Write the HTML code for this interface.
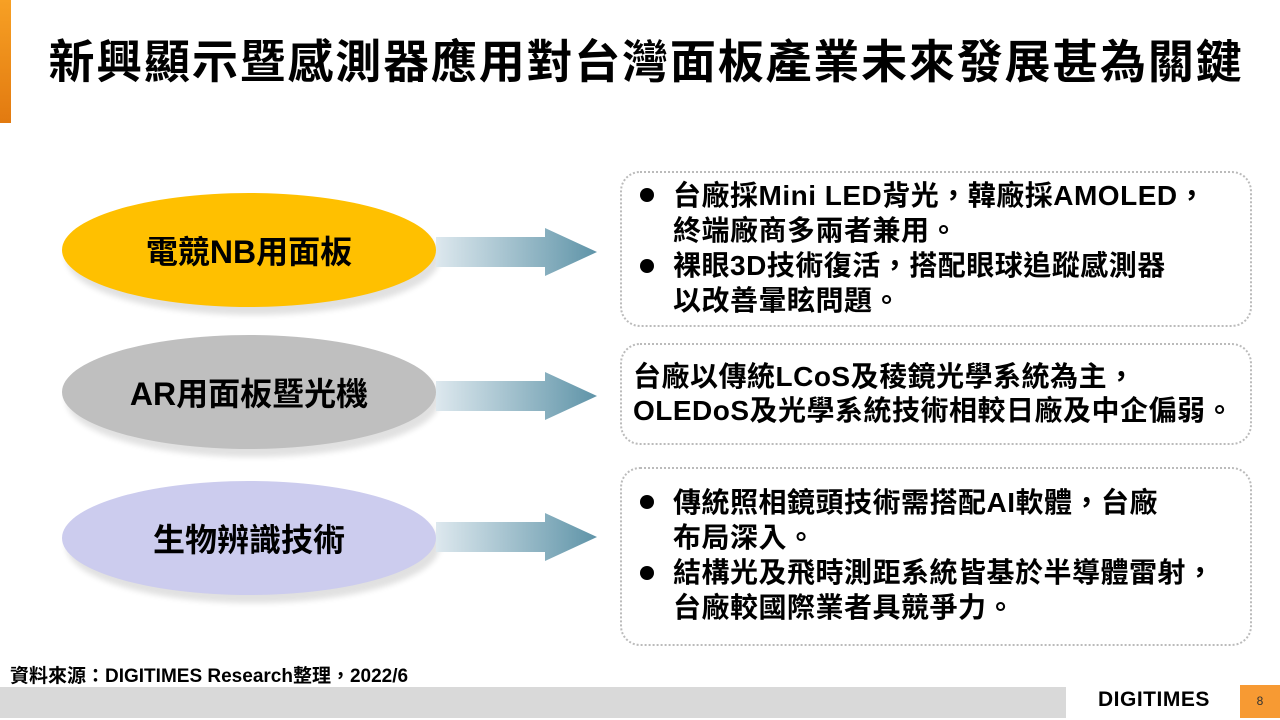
<!DOCTYPE html>
<html><head><meta charset="utf-8"><style>
body{margin:0;width:1280px;height:720px;position:relative;background:#fff;overflow:hidden;font-family:"Liberation Sans","Noto Sans CJK TC",sans-serif;}
.a{position:absolute;}
.t{font-weight:bold;font-size:28px;color:#000;white-space:nowrap;line-height:35px;letter-spacing:0.5px;}
.box{position:absolute;left:620px;width:628px;border:2.5px dotted #bbb;border-radius:20px;}
.el{position:absolute;left:62px;width:374px;height:114px;border-radius:50%;display:flex;align-items:center;justify-content:center;font-weight:bold;font-size:32px;box-shadow:4px 8px 6px rgba(0,0,0,0.12);}
.dot{position:absolute;width:14px;height:14px;border-radius:50%;background:#000;}
</style></head><body>
<div class="a" style="left:0;top:0;width:11px;height:123px;background:linear-gradient(#f7a024,#e27a10);"></div>
<div class="a" style="left:0;top:34px;width:1292px;text-align:center;font-weight:bold;font-size:46px;line-height:56px;letter-spacing:1.8px;">新興顯示暨感測器應用對台灣面板產業未來發展甚為關鍵</div>

<div class="el" style="top:193px;background:#ffc000;">電競NB用面板</div>
<div class="el" style="top:335px;background:#bfbfbf;">AR用面板暨光機</div>
<div class="el" style="top:481px;background:#ccccee;">生物辨識技術</div>

<svg class="a" style="left:0;top:0" width="620" height="720">
<defs><linearGradient id="g" x1="0" x2="1"><stop offset="0" stop-color="#dde8ee"/><stop offset="1" stop-color="#5f94a8"/></linearGradient></defs>
<g fill="url(#g)">
<polygon points="436,237 545,237 545,228 597,252 545,276 545,267 436,267"/>
<polygon points="436,381 545,381 545,372 597,396 545,420 545,411 436,411"/>
<polygon points="436,522 545,522 545,513 597,537 545,561 545,552 436,552"/>
</g></svg>

<div class="box" style="top:171px;height:152px;"></div>
<div class="dot" style="left:640px;top:188px"></div>
<div class="dot" style="left:640px;top:259px"></div>
<div class="a t" style="left:673px;top:178px">台廠採Mini LED背光，韓廠採AMOLED，<br>終端廠商多兩者兼用。<br>裸眼3D技術復活，搭配眼球追蹤感測器<br>以改善暈眩問題。</div>

<div class="box" style="top:343px;height:98px;"></div>
<div class="a t" style="left:633px;top:360px;line-height:34px">台廠以傳統LCoS及稜鏡光學系統為主，<br>OLEDoS及光學系統技術相較日廠及中企偏弱。</div>

<div class="box" style="top:467px;height:175px;"></div>
<div class="dot" style="left:640px;top:495px"></div>
<div class="dot" style="left:640px;top:566px"></div>
<div class="a t" style="left:673px;top:485px">傳統照相鏡頭技術需搭配AI軟體，台廠<br>布局深入。<br>結構光及飛時測距系統皆基於半導體雷射，<br>台廠較國際業者具競爭力。</div>

<div class="a" style="left:10px;top:661px;font-size:19px;font-weight:bold;">資料來源：DIGITIMES Research整理，2022/6</div>
<div class="a" style="left:0;top:687px;width:1066px;height:31px;background:#d9d9d9;"></div>
<div class="a" style="left:1098px;top:688px;font-size:21px;font-weight:900;letter-spacing:0.5px;">DIGITIMES</div>
<div class="a" style="left:1240px;top:685px;width:40px;height:33px;background:#f79a33;color:#333;font-size:12px;text-align:center;line-height:33px;">8</div>
</body></html>
